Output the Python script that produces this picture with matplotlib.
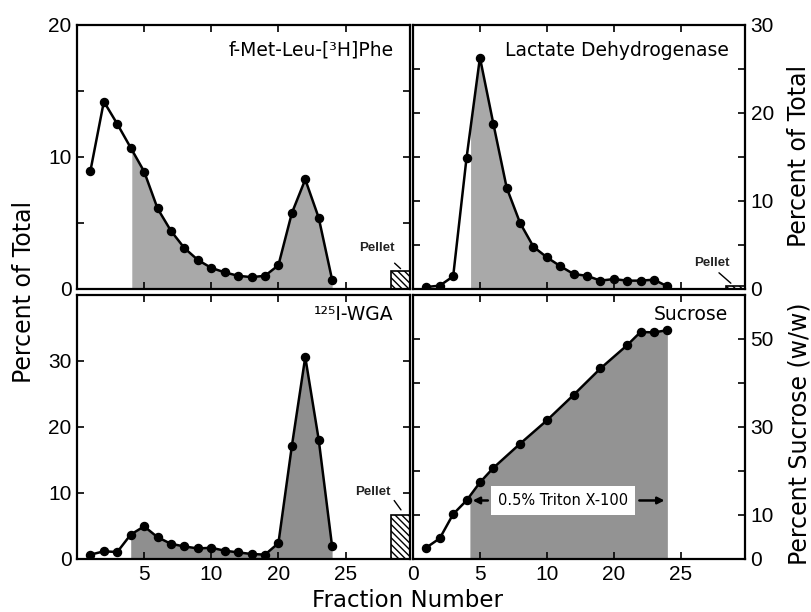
import numpy as np
import matplotlib
matplotlib.use("Agg")
import matplotlib.pyplot as plt

plt.rcParams['font.family'] = ['Liberation Sans', 'DejaVu Sans']
LABEL_FONT = ['DejaVu Sans']

# ---------------- data ----------------
fractions = np.arange(1, 20)
fmlp = [8.95, 14.2, 12.5, 10.7, 8.9, 6.1, 4.4, 3.1, 2.2, 1.6, 1.26, 1.0, 0.9, 1.0, 1.8, 5.75, 8.3, 5.4, 0.7]
ldh = [0.23, 0.38, 1.44, 14.9, 26.3, 18.8, 11.5, 7.5, 4.8, 3.6, 2.6, 1.7, 1.5, 0.95, 1.13, 0.95, 0.95, 1.06, 0.3]
wga = [0.66, 1.16, 1.06, 3.7, 4.95, 3.3, 2.3, 1.9, 1.6, 1.7, 1.26, 1.0, 0.76, 0.66, 2.4, 17.1, 30.6, 18.1, 1.9]
suc_fractions = [1, 2, 3, 4, 5, 6, 8, 10, 12, 14, 16, 17, 18, 19]
sucrose = [2.6, 4.7, 10.2, 13.3, 17.4, 20.7, 26.2, 31.5, 37.3, 43.3, 48.6, 51.6, 51.5, 52.0]

pellet_fmlp = 1.34
pellet_ldh = 0.35
pellet_wga = 6.7

x_tick_pos = [5, 10, 15, 20]
x_tick_labels = ['5', '10', '20', '25']

titles = ['f-Met-Leu-[³H]Phe', 'Lactate Dehydrogenase', '¹²⁵I-WGA', 'Sucrose']

# ---------------- figure ----------------
fig = plt.figure(figsize=(8.12, 6.12), dpi=100)
W, H = 812, 612

def pos(l, r, t, b):
    return [l / W, 1 - b / H, (r - l) / W, (b - t) / H]

ax_tl = fig.add_axes(pos(77, 410, 25, 289))
ax_tr = fig.add_axes(pos(413, 745, 25, 289))
ax_bl = fig.add_axes(pos(77, 410, 295, 559))
ax_br = fig.add_axes(pos(413, 745, 295, 559))

XMAX = 24.8
PEL_X0 = 23.4

def style(ax, ylim, minor_y):
    ax.set_xlim(0, XMAX)
    ax.set_ylim(*ylim)
    for s in ax.spines.values():
        s.set_linewidth(1.6)
    ax.tick_params(which='both', direction='in', top=True, bottom=True,
                   left=True, right=True, length=5, width=1.2,
                   labelsize=15, pad=4)
    ax.set_xticks(x_tick_pos)
    ax.set_yticks(minor_y, minor=True)
    ax.tick_params(which='minor', length=5, width=1.2)

def draw(ax, x, y, shade_start, color):
    x = np.asarray(x, float)
    y = np.asarray(y, float)
    xs = np.concatenate([[shade_start], x[x > shade_start]])
    ys = np.concatenate([[np.interp(shade_start, x, y)], y[x > shade_start]])
    ax.fill_between(xs, 0, ys, color=color, lw=0, zorder=1)
    ax.plot(x, y, color='black', lw=1.8, marker='o', ms=5.8, zorder=3)

def pellet(ax, h, text_xy, line_start, line_end):
    ax.bar(PEL_X0, h, width=XMAX - PEL_X0, align='edge', facecolor='white',
           edgecolor='black', hatch='\\\\\\\\\\', lw=1.2, zorder=2)
    ax.text(*text_xy, 'Pellet', ha='center', va='center', fontsize=9.5,
            fontweight='bold', color='#222222')
    ax.annotate('', xy=line_end, xytext=line_start,
                arrowprops=dict(arrowstyle='-', lw=1.0, color='black'))

def title(ax, txt, y):
    ax.text(0.95, y, txt, transform=ax.transAxes, ha='right', va='center',
            fontsize=13.5, family=LABEL_FONT)

# top-left
style(ax_tl, (0, 20), [5, 15])
ax_tl.set_yticks([0, 10, 20])
ax_tl.tick_params(labelbottom=False)
draw(ax_tl, fractions, fmlp, 4.08, '#a9a9a9')
pellet(ax_tl, pellet_fmlp, (22.3, 3.1), (23.5, 2.1), (24.25, 1.4))
title(ax_tl, titles[0], 0.905)

# top-right
style(ax_tr, (0, 30), [5, 15, 25])
ax_tr.set_yticks([0, 10, 20, 30])
ax_tr.tick_params(labelbottom=False, labelleft=False, labelright=True)
draw(ax_tr, fractions, ldh, 4.3, '#a9a9a9')
pellet(ax_tr, pellet_ldh, (22.3, 2.95), (22.7, 2.05), (23.9, 0.45))
title(ax_tr, titles[1], 0.905)

# bottom-left
style(ax_bl, (0, 40), [])
ax_bl.set_yticks([0, 10, 20, 30])
ax_bl.set_xticklabels(x_tick_labels)
draw(ax_bl, fractions, wga, 4.0, '#8f8f8f')
pellet(ax_bl, pellet_wga, (22.0, 10.2), (23.5, 9.2), (24.25, 7.1))
title(ax_bl, titles[2], 0.925)

# bottom-right
style(ax_br, (0, 60), [20, 40])
ax_br.set_yticks([0, 10, 30, 50])
ax_br.set_xticks([0] + x_tick_pos)
ax_br.set_xticklabels(['0'] + x_tick_labels)
ax_br.tick_params(labelleft=False, labelright=True)
draw(ax_br, suc_fractions, sucrose, 4.25, '#939393')
title(ax_br, titles[3], 0.925)
ax_br.text(11.2, 13.3, '0.5% Triton X-100', ha='center', va='center',
           fontsize=10.5, zorder=5, family=LABEL_FONT,
           bbox=dict(boxstyle='square,pad=0.45', fc='white', ec='none'))
ax_br.annotate('', xy=(4.25, 13.3), xytext=(5.8, 13.3),
               arrowprops=dict(arrowstyle='-|>', lw=1.8, color='black',
                               mutation_scale=10), zorder=6)
ax_br.annotate('', xy=(19.0, 13.3), xytext=(16.7, 13.3),
               arrowprops=dict(arrowstyle='-|>', lw=1.8, color='black',
                               mutation_scale=10), zorder=6)

# axis labels
fig.text(0.029, 0.523, 'Percent of Total', rotation=90, ha='center',
         va='center', fontsize=17, family=LABEL_FONT)
fig.text(0.984, 0.745, 'Percent of Total', rotation=90, ha='center',
         va='center', fontsize=17, family=LABEL_FONT)
fig.text(0.984, 0.292, 'Percent Sucrose (w/w)', rotation=90, ha='center',
         va='center', fontsize=17, family=LABEL_FONT)
fig.text(0.502, 0.018, 'Fraction Number', ha='center', va='center',
         fontsize=16.5, family=LABEL_FONT)

fig.savefig('out.png', dpi=100)
